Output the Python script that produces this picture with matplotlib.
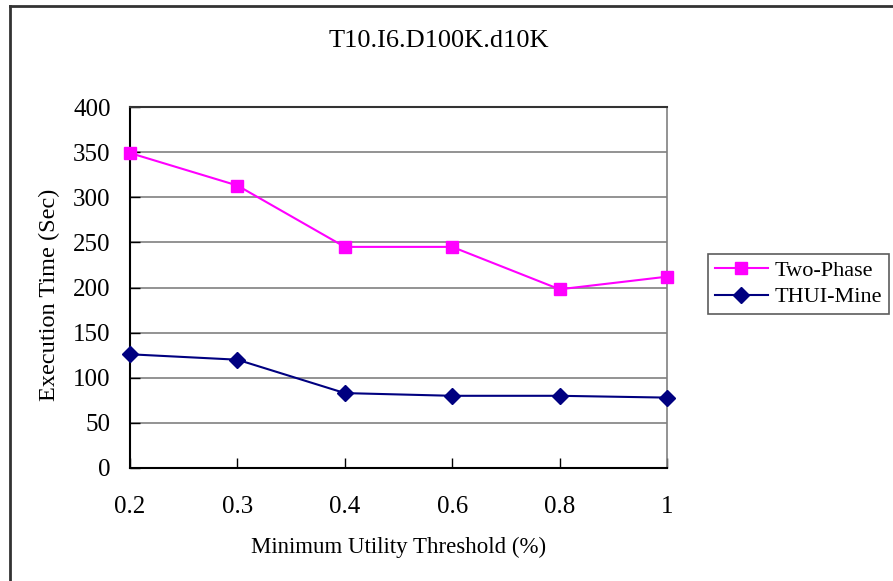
import matplotlib
matplotlib.use("Agg")
from matplotlib import pyplot as plt
from matplotlib.lines import Line2D

plt.rcParams['font.family'] = ['Liberation Serif', 'DejaVu Serif']

# data
thresholds = ['0.2', '0.3', '0.4', '0.6', '0.8', '1']
two_phase = [349, 313, 245, 245, 198, 212]
thui_mine = [126, 120, 83, 80, 80, 78]
yticks = [0, 50, 100, 150, 200, 250, 300, 350, 400]

fig = plt.figure(figsize=(8.93, 5.81), dpi=100)
ax = fig.add_axes([130/893, 1-468/581, 537/893, 361/581])

xs = list(range(len(thresholds)))
ax.plot(xs, two_phase, color='#ff00ff', lw=1.5, marker='s', ms=9,
        label='Two-Phase', clip_on=False, zorder=5)
ax.plot(xs, thui_mine, color='#000080', lw=1.5, marker='D', ms=8,
        label='THUI-Mine', clip_on=False, zorder=5)

ax.set_xlim(0, len(thresholds) - 1)
ax.set_ylim(0, 400)
ax.set_xticks(xs)
ax.set_xticklabels(thresholds)
ax.set_yticks(yticks)
ax.tick_params(direction='in', length=7, width=1, labelsize=18, colors='black')
ax.tick_params(axis='x', pad=20)
ax.tick_params(axis='y', pad=14)

for y in yticks[1:-1]:
    ax.axhline(y, color='#808080', lw=1.2, zorder=1)

ax.spines['left'].set_linewidth(1.5)
ax.spines['bottom'].set_linewidth(1.5)
ax.spines['top'].set_color('#333333')
ax.spines['top'].set_linewidth(1.5)
ax.spines['right'].set_color('#808080')
ax.spines['right'].set_linewidth(1.2)

ax.set_xlabel('Minimum Utility Threshold (%)', fontsize=16.5, labelpad=14)
ax.set_ylabel('Execution Time (Sec)', fontsize=17.5)
ax.yaxis.set_label_coords(-0.130, 0.479)
fig.text(439/893, 1-41/581, 'T10.I6.D100K.d10K', fontsize=19,
         ha='center', va='center')

leg = fig.legend(loc='center left', bbox_to_anchor=(708/893, 1-284/581),
                 fontsize=16, frameon=True, fancybox=False, handlelength=2.4,
                 borderpad=0.3, labelspacing=0.25, handletextpad=0.3,
                 borderaxespad=0)
leg.get_frame().set_edgecolor('#333333')
leg.get_frame().set_linewidth(1.2)

# outer chart border
fig.add_artist(Line2D([10/893, 10/893], [0, 1-6/581], color='#333333', lw=2,
                      transform=fig.transFigure))
fig.add_artist(Line2D([10/893, 1], [1-6/581, 1-6/581], color='#333333', lw=2,
                      transform=fig.transFigure))

fig.savefig('out.png', dpi=100)
